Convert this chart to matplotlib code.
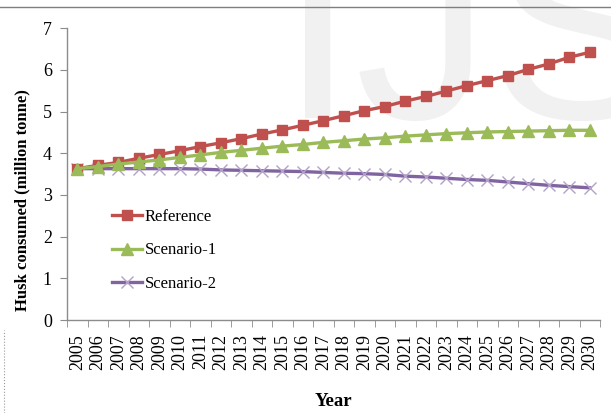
import numpy as np
import matplotlib
matplotlib.use('Agg')
import matplotlib.pyplot as plt
from matplotlib.lines import Line2D

years = list(range(2005, 2031))
reference = [3.63, 3.71, 3.78, 3.88, 3.97, 4.06, 4.16, 4.25, 4.35, 4.46, 4.56, 4.67, 4.78,
             4.90, 5.02, 5.12, 5.25, 5.36, 5.49, 5.62, 5.74, 5.86, 6.01, 6.14, 6.30, 6.42]
scenario_1 = [3.63, 3.68, 3.74, 3.79, 3.84, 3.90, 3.96, 4.02, 4.07, 4.12, 4.17, 4.21, 4.26,
              4.30, 4.34, 4.37, 4.41, 4.44, 4.47, 4.49, 4.51, 4.52, 4.53, 4.54, 4.55, 4.55]
scenario_2 = [3.63, 3.63, 3.63, 3.63, 3.63, 3.63, 3.62, 3.60, 3.59, 3.58, 3.57, 3.56, 3.54,
              3.52, 3.51, 3.49, 3.45, 3.43, 3.40, 3.37, 3.35, 3.31, 3.27, 3.23, 3.20, 3.17]

serif = ['Liberation Serif', 'DejaVu Serif']
grey = '#8c8c8c'

fig = plt.figure(figsize=(6.11, 4.13), dpi=100)
ax = fig.add_axes([0.110, 0.225, 0.872, 0.707])
ax.patch.set_visible(False)

# faint watermark behind the chart
fig.text(280 / 611, 1 - 118 / 413, 'IJS', fontsize=195, color='#f1f1f1',
         family='Liberation Sans', va='baseline', ha='left', zorder=-1)

# page border artifacts
fig.add_artist(Line2D([0, 1], [1 - 7 / 413, 1 - 7 / 413], color='#7f7f7f', lw=1.0))
fig.add_artist(Line2D([4 / 611, 4 / 611], [0, 1 - 330 / 413], color='#9a9a9a', lw=0.8, ls=':'))

x = np.arange(len(years))
ax.plot(x, reference, color='#C0504D', lw=2.4, marker='s', markersize=7.5,
        label='Reference', zorder=3)
ax.plot(x, scenario_1, color='#9BBB59', lw=2.4, marker='^', markersize=8,
        label='Scenario-1', zorder=3)
ax.plot(x, scenario_2, color='#8064A2', lw=2.4, marker='x', markersize=8,
        markeredgecolor='#B3A2C7', markeredgewidth=1.0, label='Scenario-2', zorder=2)

ax.set_xlim(-0.5, len(years) - 0.5)
ax.set_ylim(0, 7)
ax.set_yticks(range(0, 8))
ax.set_xticks(x)
ax.set_xticklabels([str(y) for y in years], rotation=90, family=serif, fontsize=13)
ax.set_xticks(np.arange(-0.5, len(years)), minor=True)
ax.tick_params(axis='x', which='major', length=0, pad=10)
ax.tick_params(axis='x', which='minor', length=5, color=grey, direction='out')
ax.tick_params(axis='y', length=5, color=grey, direction='out', pad=6)
for lbl in ax.get_yticklabels():
    lbl.set_family(serif)
    lbl.set_fontsize(13)

for side in ['top', 'right']:
    ax.spines[side].set_visible(False)
for side in ['left', 'bottom']:
    ax.spines[side].set_color(grey)
    ax.spines[side].set_linewidth(1.0)

ax.set_xlabel('Year', family=serif, fontsize=13.5, fontweight='bold')
ax.xaxis.set_label_coords(0.5, -0.25)
ax.set_ylabel('Husk consumed (million tonne)', family=serif, fontsize=12,
              fontweight='bold')
ax.yaxis.set_label_coords(-0.069, 0.41)

ax.legend(loc='lower left', bbox_to_anchor=(0.055, 0.045), frameon=False,
          prop={'family': serif, 'size': 12}, handlelength=1.8, handletextpad=0.2,
          labelspacing=1.05)

fig.savefig('out.png', dpi=100)
